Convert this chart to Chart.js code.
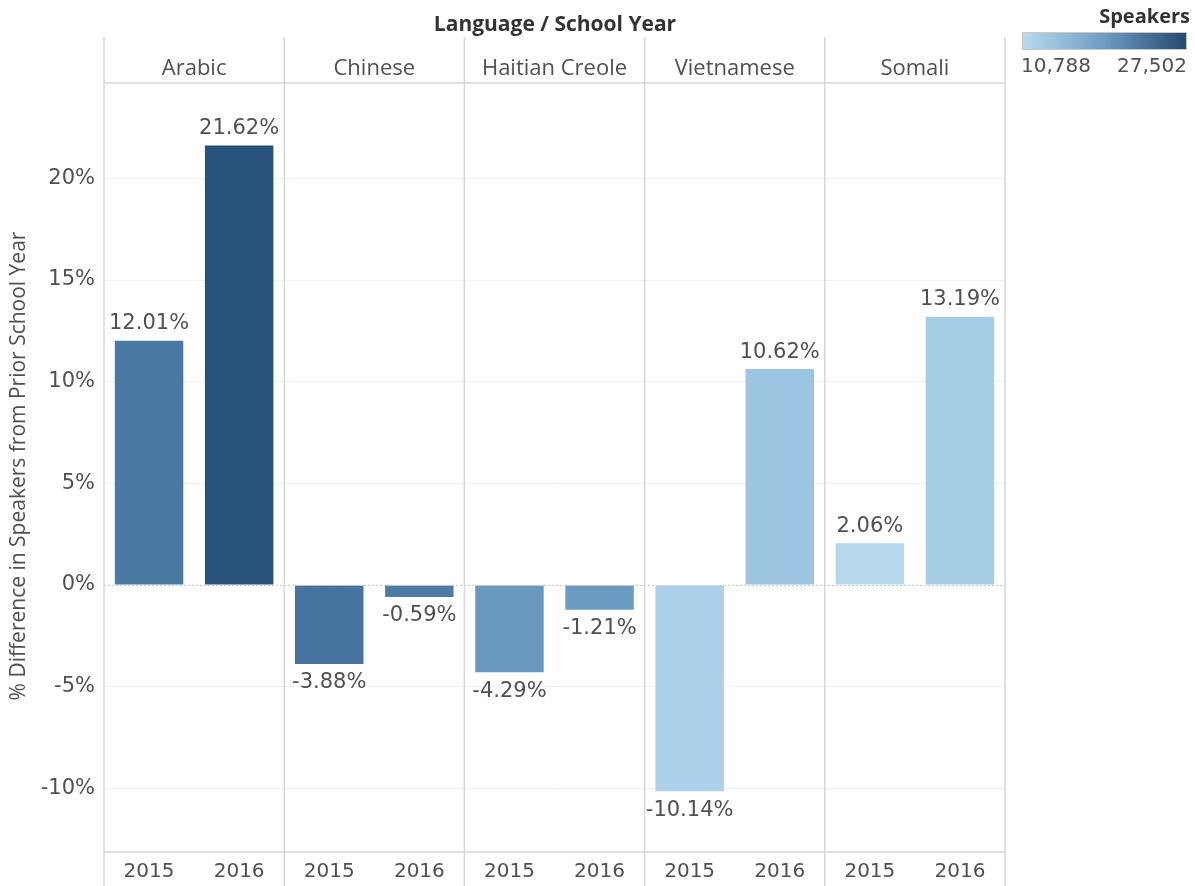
<!DOCTYPE html>
<html>
<head>
<meta charset="utf-8">
<script src="https://cdn.jsdelivr.net/npm/chart.js@4.4.1/dist/chart.umd.min.js"></script>
<style>
  html, body { margin: 0; padding: 0; background: #fff; }
  #chart { display: block; }
</style>
</head>
<body>
<canvas id="chart" width="1195" height="886"></canvas>
<script>
// data
const languages = ["Arabic", "Chinese", "Haitian Creole", "Vietnamese", "Somali"];
const years = ["2015", "2016"];
const pctChange = [12.01, 21.62, -3.88, -0.59, -4.29, -1.21, -10.14, 10.62, 2.06, 13.19];
const barColors = ["#4a79a3", "#29527a", "#47739f", "#4e7ba6", "#6a98be", "#6c9bc1",
                   "#acd0e9", "#9cc5e1", "#b6d9ed", "#a6cde6"];
const yTicks = [-10, -5, 0, 5, 10, 15, 20];
const speakersMin = "10,788";
const speakersMax = "27,502";

const FONT = "'Open Sans', 'Noto Sans', sans-serif";
const NUMFONT = "'DejaVu Sans', sans-serif";
const TEXT = "#505050";

const labels = [];
languages.forEach(() => years.forEach(y => labels.push(y)));

const overlay = {
  id: "overlay",
  afterDatasetsDraw(chart) {
    const ctx = chart.ctx;
    const area = chart.chartArea;
    const x = chart.scales.x;
    const y = chart.scales.y;
    ctx.save();

    // dotted zero line
    const y0 = Math.round(y.getPixelForValue(0)) + 0.5;
    ctx.strokeStyle = "#c8c8c8";
    ctx.lineWidth = 1;
    ctx.setLineDash([2, 2]);
    ctx.beginPath();
    ctx.moveTo(area.left, y0);
    ctx.lineTo(area.right, y0);
    ctx.stroke();
    ctx.setLineDash([]);

    // panel borders
    ctx.strokeStyle = "#d6d6d6";
    ctx.lineWidth = 1.5;
    const bounds = [area.left];
    for (let i = 1; i < languages.length; i++) {
      bounds.push((x.getPixelForValue(2 * i - 1) + x.getPixelForValue(2 * i)) / 2);
    }
    bounds.push(area.right);
    bounds.forEach(bx => {
      ctx.beginPath();
      ctx.moveTo(bx, 37);
      ctx.lineTo(bx, chart.height);
      ctx.stroke();
    });
    ctx.beginPath();
    ctx.moveTo(area.left, area.top);
    ctx.lineTo(area.right, area.top);
    ctx.moveTo(area.left, area.bottom);
    ctx.lineTo(area.right, area.bottom);
    ctx.stroke();

    // language headers
    ctx.fillStyle = TEXT;
    ctx.font = "22px " + FONT;
    ctx.textAlign = "center";
    ctx.textBaseline = "middle";
    languages.forEach((name, i) => {
      ctx.fillText(name, (bounds[i] + bounds[i + 1]) / 2, 69);
    });

    // top title
    ctx.fillStyle = "#333";
    ctx.font = "bold 21px " + FONT;
    ctx.fillText("Language / School Year", 555, 25);

    // value labels
    ctx.fillStyle = TEXT;
    ctx.font = "21px " + NUMFONT;
    const meta = chart.getDatasetMeta(0);
    meta.data.forEach((bar, i) => {
      const v = pctChange[i];
      const ty = v >= 0 ? bar.y - 17 : bar.y + 19;
      ctx.fillText(v.toFixed(2) + "%", bar.x, ty);
    });

    // y axis title
    ctx.save();
    ctx.translate(19, 466);
    ctx.rotate(-Math.PI / 2);
    ctx.fillStyle = TEXT;
    ctx.font = "21px " + FONT;
    ctx.fillText("% Difference in Speakers from Prior School Year", 0, 0);
    ctx.restore();

    // colour legend
    ctx.fillStyle = "#333";
    ctx.font = "bold 20px " + FONT;
    ctx.textAlign = "right";
    ctx.fillText("Speakers", 1190, 17);
    const grad = ctx.createLinearGradient(1022, 0, 1186, 0);
    grad.addColorStop(0, "#b9dcef");
    grad.addColorStop(0.5, "#6f9cc3");
    grad.addColorStop(1, "#26496f");
    ctx.fillStyle = grad;
    ctx.fillRect(1022, 32, 164, 17);
    ctx.strokeStyle = "#c8c8c8";
    ctx.lineWidth = 1;
    ctx.strokeRect(1022.5, 32.5, 164, 17);
    ctx.fillStyle = TEXT;
    ctx.font = "20px " + NUMFONT;
    ctx.textAlign = "left";
    ctx.fillText(speakersMin, 1021, 67);
    ctx.textAlign = "right";
    ctx.fillText(speakersMax, 1187, 67);

    ctx.restore();
  }
};

new Chart(document.getElementById("chart"), {
  type: "bar",
  data: {
    labels: labels,
    datasets: [{
      data: pctChange,
      backgroundColor: barColors,
      borderWidth: 0,
      barPercentage: 0.76,
      categoryPercentage: 1.0
    }]
  },
  options: {
    responsive: false,
    animation: false,
    layout: { padding: { top: 83, right: 190, left: 0, bottom: 0 } },
    plugins: {
      legend: { display: false },
      tooltip: { enabled: false },
      title: { display: false }
    },
    scales: {
      x: {
        grid: { display: false, drawTicks: false },
        border: { display: false },
        ticks: { color: TEXT, font: { family: NUMFONT, size: 20 }, padding: 8, maxRotation: 0 },
        afterFit(scale) { scale.height = 34; }
      },
      y: {
        min: -13.13,
        max: 24.69,
        border: { display: false },
        grid: {
          color: ctx => (ctx.tick && ctx.tick.value === 0) ? "rgba(0,0,0,0)" : "#f0f0f0",
          drawTicks: false
        },
        afterBuildTicks(scale) { scale.ticks = yTicks.map(v => ({ value: v })); },
        ticks: {
          color: TEXT,
          font: { family: NUMFONT, size: 21 },
          padding: 9,
          callback: v => v + "%"
        },
        afterFit(scale) { scale.width = 104; }
      }
    }
  },
  plugins: [overlay]
});
</script>
</body>
</html>
